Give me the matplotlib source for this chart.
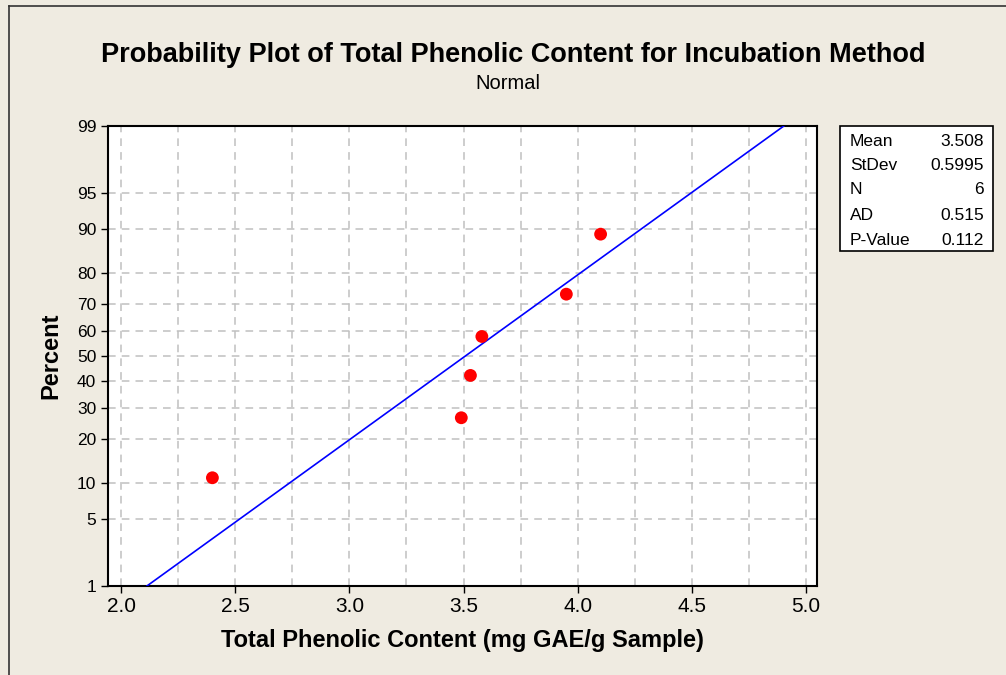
from statistics import NormalDist
import numpy as np
import matplotlib.pyplot as plt
from matplotlib.patches import Rectangle
from matplotlib.lines import Line2D

# -----------------------------
# Data
# -----------------------------
phenolic = [2.40, 3.49, 3.53, 3.58, 3.95, 4.10]
percent = [10.9, 26.6, 42.2, 57.8, 73.4, 89.1]

mean_val = 3.508
stdev_val = 0.5995
fit_percent = [1, 99]

y_ticks = [1, 5, 10, 20, 30, 40, 50, 60, 70, 80, 90, 95, 99]
x_ticks = [2.0, 2.5, 3.0, 3.5, 4.0, 4.5, 5.0]

stat_names = ["Mean", "StDev", "N", "AD", "P-Value"]
stat_values = ["3.508", "0.5995", "6", "0.515", "0.112"]

BG = "#EFEBE1"
FONT = "Liberation Sans"

nd = NormalDist()


def probit(p):
    return nd.inv_cdf(p / 100.0)


fig = plt.figure(figsize=(10.06, 6.75), dpi=100, facecolor=BG)
ax = fig.add_axes([0.1074, 0.1319, 0.7048, 0.6815])
ax.set_facecolor("white")

# fitted line
fit_z = [probit(p) for p in fit_percent]
fit_x = [mean_val + stdev_val * z for z in fit_z]
ax.plot(fit_x, fit_z, color="#0000FF", lw=1.2, zorder=3)

# data points
ax.scatter(phenolic, [probit(p) for p in percent], s=85, color="#FF0000",
           edgecolors="none", zorder=4)

ax.set_xlim(1.943, 5.048)
ax.set_ylim(probit(1), probit(99))

ax.set_xticks(x_ticks)
ax.set_xticklabels([f"{v:.1f}" for v in x_ticks], fontsize=15, family=FONT)
ax.set_xticks(np.arange(2.0, 5.01, 0.25), minor=True)
ax.set_yticks([probit(p) for p in y_ticks])
ax.set_yticklabels([str(p) for p in y_ticks], fontsize=12.5, family=FONT)

ax.tick_params(axis="both", which="major", direction="out", length=5, width=1, color="black")
ax.tick_params(axis="x", which="major", pad=3)
ax.tick_params(axis="x", which="minor", length=0)

ax.grid(True, axis="x", which="both", color="#C0C0C0", linestyle=(0, (5, 4)), lw=1.1)
ax.grid(True, axis="y", which="major", color="#C0C0C0", linestyle=(0, (5, 4)), lw=1.1)
ax.set_axisbelow(True)

for sp in ax.spines.values():
    sp.set_linewidth(1.5)
    sp.set_color("black")

ax.set_xlabel("Total Phenolic Content (mg GAE/g Sample)", fontsize=17,
              fontweight="bold", family=FONT, labelpad=9)
ax.set_ylabel("Percent", fontsize=17, fontweight="bold", family=FONT, labelpad=10)

fig.text(0.510, 0.918, "Probability Plot of Total Phenolic Content for Incubation Method",
         ha="center", va="center", fontsize=19.5, fontweight="bold", family=FONT)
fig.text(0.505, 0.876, "Normal", ha="center", va="center", fontsize=14.5, family=FONT)

# stats box
box_l, box_r = 840 / 1006, 993 / 1006
box_t, box_b = 1 - 126 / 675, 1 - 251 / 675
fig.add_artist(Rectangle((box_l, box_b), box_r - box_l, box_t - box_b,
                         transform=fig.transFigure, facecolor="white",
                         edgecolor="black", lw=1.2))
row_y = [142, 166, 190, 215, 240]
for name, val, yy in zip(stat_names, stat_values, row_y):
    fig.text(850 / 1006, 1 - yy / 675, name, ha="left", va="center", fontsize=12.5, family=FONT)
    fig.text(984 / 1006, 1 - yy / 675, val, ha="right", va="center", fontsize=12.5, family=FONT)

# outer frame (top and left edge)
fig.add_artist(Line2D([9 / 1006, 9 / 1006], [0, 1 - 6 / 675], transform=fig.transFigure,
                      color="#333333", lw=1.2))
fig.add_artist(Line2D([9 / 1006, 1], [1 - 6 / 675, 1 - 6 / 675], transform=fig.transFigure,
                      color="#333333", lw=1.2))

fig.savefig("out.png", dpi=100, facecolor=BG)
